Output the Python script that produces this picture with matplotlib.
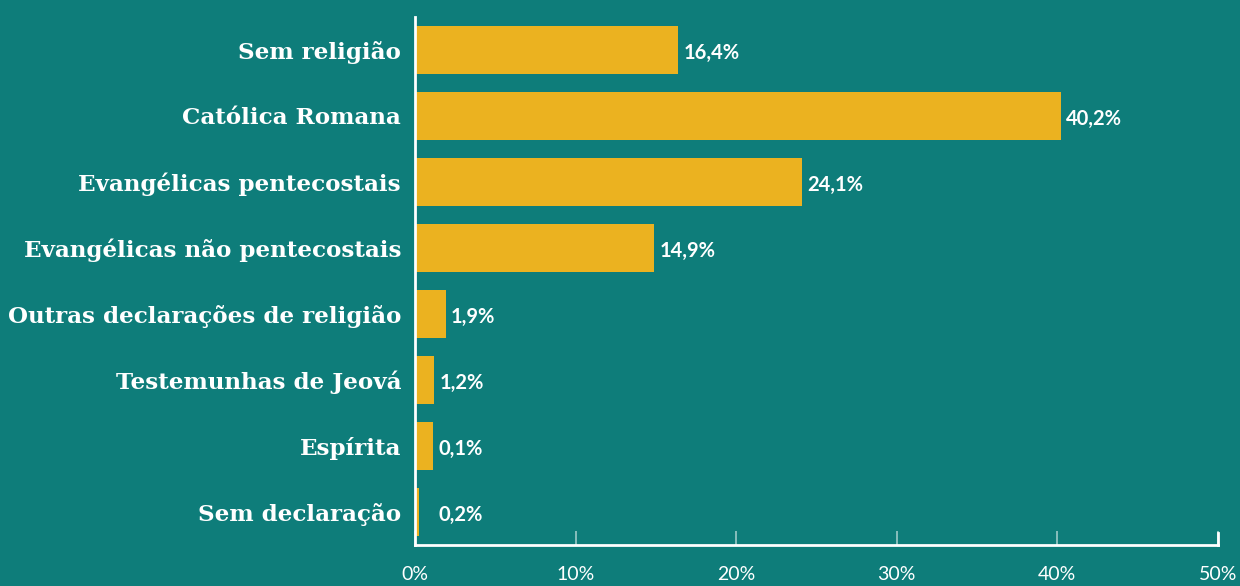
import numpy as np
import matplotlib
matplotlib.use("Agg")
import matplotlib.pyplot as plt

categories = ["Sem religião", "Católica Romana", "Evangélicas pentecostais",
              "Evangélicas não pentecostais", "Outras declarações de religião",
              "Testemunhas de Jeová", "Espírita", "Sem declaração"]
values = [16.4, 40.2, 24.1, 14.9, 1.9, 1.2, 1.1, 0.25]
value_labels = ["16,4%", "40,2%", "24,1%", "14,9%", "1,9%", "1,2%", "0,1%", "0,2%"]
xticks = [0, 10, 20, 30, 40, 50]
xtick_labels = ["0%", "10%", "20%", "30%", "40%", "50%"]

bg = "#0e7d7a"
bar_color = "#ebb220"

fig = plt.figure(figsize=(12.4, 5.86), dpi=100, facecolor=bg)
ax = fig.add_axes([415 / 1240, 41 / 586, 803 / 1240, 528 / 586])
ax.set_facecolor(bg)

y = np.arange(len(categories))
ax.barh(y, values, height=0.727, color=bar_color, zorder=2)

for i, (v, lab) in enumerate(zip(values, value_labels)):
    ax.text(max(v, 1.1) + 0.35, i + 0.05, lab, va="center", ha="left", color="white",
            fontsize=14.5, fontweight="bold", family="Lato")

ax.set_ylim(len(categories) - 0.5, -0.5)
ax.set_xlim(0, 50)
ax.set_yticks(y)
ax.set_yticklabels(categories, fontsize=16.6, fontweight="bold",
                   family=["DejaVu Serif", "Liberation Serif"], color="white")
ax.tick_params(axis="y", length=0, pad=10)

ax.set_xticks(xticks)
ax.set_xticklabels(xtick_labels, fontsize=14, family="Lato", color="white")
ax.tick_params(axis="x", direction="in", length=10, width=1.2, color="#9cc9c7", pad=15)

for s in ["top", "right"]:
    ax.spines[s].set_visible(False)
for s in ["left", "bottom"]:
    ax.spines[s].set_color("white")
    ax.spines[s].set_linewidth(2)
ax.axvline(50, ymin=0, ymax=12 / 528, color="white", lw=2, clip_on=False)

fig.savefig("out.png", dpi=100, facecolor=bg)
